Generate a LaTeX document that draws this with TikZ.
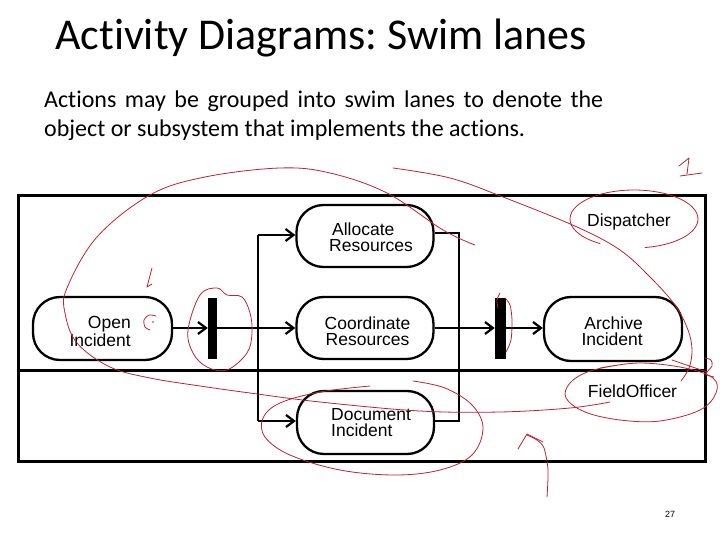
\documentclass[tikz,border=0pt]{standalone}
\usepackage{fontspec}
\setmainfont{Liberation Sans}
\newfontfamily\slidefont[RawFeature=-liga]{Carlito}
\usetikzlibrary{arrows.meta}
\definecolor{pen}{RGB}{185,35,50}
\frenchspacing
\begin{document}
\begin{tikzpicture}[x=1pt,y=-1pt,
 action/.style={draw,line width=2.3pt,rounded corners=27pt,minimum width=137pt,minimum height=62pt,inner sep=0pt},
 lbl/.style={font=\fontsize{17.5}{16}\selectfont,inner sep=0pt},
 bar/.style={fill=black,draw=none,minimum width=10pt,minimum height=61pt,inner sep=0pt},
 flow/.style={line width=2.2pt,-{Straight Barb[length=8pt,width=12pt]}},
 wire/.style={line width=2.6pt},
 lane/.style={line width=3pt},
 ann/.style={draw=pen,line width=0.8pt,line cap=round,line join=round}]
\useasboundingbox (0,0) rectangle (720,540);

% title and text
\node[anchor=base west,inner sep=0pt,font=\slidefont\fontsize{44}{50}\selectfont] (title) at (55,50) {Activity Diagrams: Swim lanes};
\node[anchor=base west,inner sep=0pt,font=\slidefont\fontsize{24}{28.5}\selectfont] (body) at (44,108)
  {\parbox[t]{559pt}{\hyphenpenalty=10000\exhyphenpenalty=10000 Actions may be grouped into swim lanes to denote the object or subsystem that implements the actions.}};

% swim lanes
\draw[lane] (18,196) rectangle (705,461);
\draw[lane] (18,370.5) -- (705,370.5);
\node[lbl] (disp) at (629,221.5) {Dispatcher};
\node[lbl] (field) at (632.5,391) {FieldOfficer};

% actions
\node[action,minimum width=139pt,minimum height=63pt] (open) at (102.5,328.5) {};
\node[action] (alloc) at (365,236) {};
\node[action] (coord) at (365,328) {};
\node[action,minimum height=63pt] (doc) at (365.5,422.5) {};
\node[action,minimum width=138pt,minimum height=64pt] (arch) at (613,329) {};

\node[lbl,align=right,anchor=east] (open-t) at (131,331.5) {Open\\Incident};
\node[lbl,align=left,anchor=west] (alloc-t) at (329,237.3) {\,Allocate\\Resources};
\node[lbl,align=center] (coord-t) at (367.5,331.3) {Coordinate\\Resources};
\node[lbl,align=left,anchor=west] (doc-t) at (331,423) {Document\\Incident};
\node[lbl,align=right,anchor=east] (arch-t) at (643,331.3) {Archive\\Incident};

% bars
\node[bar,minimum width=9pt] (bar1) at (212.5,328.5) {};
\node[bar,minimum width=11pt] (bar2) at (500.5,328.5) {};

% connectors
\coordinate (fktop) at (258,235);
\coordinate (fkbot) at (258,421);
\coordinate (jtop) at (459,233);
\coordinate (jbot) at (459,421);
\draw[flow] (open.east |- 0,328) -- (bar1.west |- 0,328);
\draw[flow] (bar1.east |- 0,328) -- (coord.west |- 0,328);
\draw[wire] (fktop) -- (fkbot);
\draw[flow] (fktop) -- (fktop -| alloc.west);
\draw[flow] (fkbot) -- (fkbot -| doc.west);
\draw[wire] (alloc.east |- jtop) -- (jtop) -- (jbot) -- (jbot -| doc.east);
\draw[flow] (coord.east |- 0,328) -- (bar2.west |- 0,328);
\draw[flow] (bar2.east |- 0,328) -- (arch.west |- 0,328);

% page number
\node[font=\fontsize{9}{10}\selectfont,inner sep=0pt] (page) at (670,514) {27};

% red hand annotations
\draw[ann] plot[smooth,tension=0.6] coordinates {(475,245) (443,230) (387,193) (330,173) (280,168) (205,177) (150,195) (97,237) (67,288) (65,313) (77,343) (110,367) (150,378) (200,386) (250,393) (320,402) (420,411) (500,412) (570,408) (610,402)};
\draw[ann] plot[smooth,tension=0.6] coordinates {(393,168) (450,178) (503,197) (577,227) (620,250) (650,277) (675,305) (688,330) (692,350) (689,368) (681,381)};
\draw[ann] (679,166) -- (689,158) -- (687,174);
\draw[ann] (680,176) -- (702,173);
\draw[ann] plot[smooth,domain=122:440,samples=50] ({634+64*cos(\x)},{219+29*sin(\x)});
\draw[ann] plot[smooth,tension=0.6] coordinates {(600,368) (640,363) (685,368) (713,378) (716,393) (700,410) (660,421) (620,420) (585,412) (566,398) (570,383) (590,371) (625,364)};
\draw[ann] plot[smooth cycle,tension=0.6] coordinates {(188,330) (200,295) (217,288) (227,295) (242,297) (250,313) (252,333) (247,353) (227,370) (207,367) (193,353)};
\draw[ann] plot[smooth] coordinates {(500,293) (497,300) (498,308)};
\draw[ann] plot[smooth] coordinates {(505,298) (510,305) (512,320) (511,340) (506,352)};
\draw[ann] (152,268) -- (147,287) -- (152,284);
\draw[ann] plot[smooth] coordinates {(156,316) (149,315) (144,320) (145,327) (150,330)};
\fill[pen] (153,322) circle (0.8pt);
\draw[ann] plot[smooth,tension=0.6] coordinates {(413,381) (445,388) (472,405) (483,428) (472,455) (440,470) (395,475) (340,470) (290,455) (265,437) (263,418) (280,403) (320,392) (370,386)};
\draw[ann] plot[smooth] coordinates {(547,497) (548,470) (544,448) (537,440) (527,435)};
\draw[ann] (518,449) -- (527,434) -- (543,442);
\draw[ann] (672,360) -- (707,372);
\draw[ann] plot[smooth] coordinates {(705,358) (711,360) (712,366) (706,374) (714,377)};
\end{tikzpicture}
\end{document}
